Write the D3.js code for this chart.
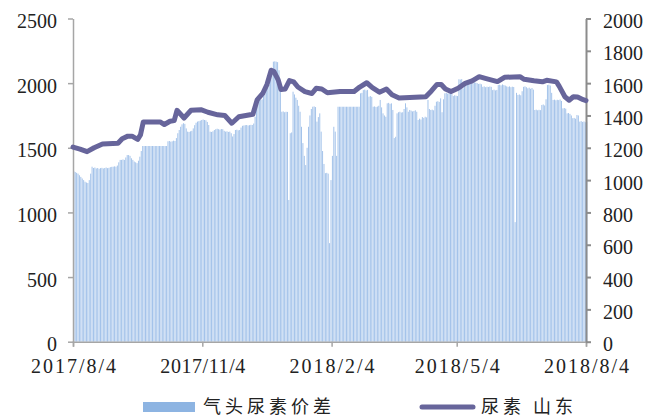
<!DOCTYPE html>
<html>
<head>
<meta charset="utf-8">
<script src="https://cdn.jsdelivr.net/npm/d3@7"></script>
<style>
  body { margin: 0; background: #fff; }
  .tick text { font-family: "Liberation Serif", serif; font-size: 20px; fill: #222; }
  .legend-label { font-family: "Noto Sans CJK SC", sans-serif; font-size: 18px; fill: #222; letter-spacing: 4px; }
</style>
</head>
<body>
<div id="chart"></div>
<script>
// 尿素 山东 (left axis) - sampled dates and prices
const lineDates = [
  '2017-08-04','2017-08-09','2017-08-14','2017-08-19','2017-08-25','2017-09-05','2017-09-08','2017-09-12',
  '2017-09-15','2017-09-19','2017-09-21','2017-09-23','2017-10-05','2017-10-08','2017-10-12','2017-10-15',
  '2017-10-17','2017-10-22','2017-10-27','2017-11-03','2017-11-08','2017-11-15','2017-11-20','2017-11-25',
  '2017-11-30','2017-12-10','2017-12-13','2017-12-17','2017-12-20','2017-12-23','2017-12-25','2017-12-28',
  '2017-12-30','2018-01-02','2018-01-05','2018-01-08','2018-01-11','2018-01-16','2018-01-21','2018-01-24',
  '2018-01-28','2018-02-01','2018-02-10','2018-02-20','2018-02-24','2018-03-01','2018-03-05','2018-03-10',
  '2018-03-15','2018-03-19','2018-03-24','2018-04-12','2018-04-16','2018-04-20','2018-04-23','2018-04-26',
  '2018-04-30','2018-05-05','2018-05-10','2018-05-15','2018-05-20','2018-05-25','2018-06-02','2018-06-07',
  '2018-06-18','2018-06-21','2018-06-28','2018-07-04','2018-07-07','2018-07-14','2018-07-16','2018-07-20',
  '2018-07-23','2018-07-26','2018-07-29','2018-08-02','2018-08-04'
];
const lineValues = [
  1505, 1490, 1470, 1500, 1530, 1535, 1570, 1590,
  1590, 1565, 1600, 1700, 1700, 1680, 1705, 1710,
  1790, 1730, 1790, 1795, 1775, 1755, 1750, 1690,
  1740, 1760, 1870, 1920, 1990, 2100, 2090, 2025,
  1950, 1955, 2020, 2010, 1970, 1935, 1920, 1960,
  1955, 1926, 1935, 1935, 1970, 2003, 1965, 1930,
  1955, 1910, 1885, 1895, 1940, 1990, 1990, 1955,
  1935, 1960, 1998, 2018, 2050, 2035, 2012, 2045,
  2050, 2030, 2018, 2010, 2022, 2010, 1975, 1895,
  1868, 1895, 1893, 1872, 1865
];

// 气头尿素价差 (right axis) - one value per day from 2017/8/4
const spreadStart = '2017-08-04';
const spreadValues = [
  1055,1050,1045,1040,1030,1020,1010,1000,990,985,982,1000,1040,1083,
  1075,1078,1072,1075,1070,1074,1076,1072,1075,1078,1074,1076,1080,1082,
  1083,1085,1083,1090,1110,1125,1125,1128,1125,1140,1155,1155,1150,1135,1125,1115,1110,1105,1120,1145,1180,
  1211,1211,1211,1211,1211,1211,1211,1211,1211,1211,1211,1211,1211,1211,1211,1211,1211,1211,
  1240,1242,1238,1240,1244,1242,1260,1290,1310,1330,1345,1352,1348,1320,1300,1298,1302,1305,
  1320,1340,1355,1362,1365,1368,1372,1375,1372,1370,1360,1341,
  1300,1298,1302,1310,1315,1318,1315,1312,1316,1315,1305,1300,1302,1298,1300,1290,
  1270,1285,1310,1312,1308,1310,1325,1336,1338,1340,1341,1338,1340,1342,1341,1350,
  1392,1440,1496,1498,1496,1500,1520,1536,1550,1570,1590,1620,1680,
  1733,1735,1733,1730,1680,1600,1423,1425,1420,1423,1422,877,
  1290,1295,1547,1530,1510,1496,1460,1423,1330,1229,1150,1093,1200,1330,1400,1440,
  1454,1456,1452,1362,1390,1413,1300,1180,1100,1043,1045,1040,610,1000,1150,1330,1300,1150,
  1454,1454,1454,1454,1454,1454,1454,1454,1454,1454,1454,1454,1454,1454,1454,1454,
  1537,1540,1557,1560,1555,1558,1516,1520,1515,1454,1456,1452,1455,1460,1496,1450,
  1413,1400,1392,1475,1478,1472,1475,1434,1260,1268,1413,1420,1423,1418,1420,1440,1475,1450,
  1423,1434,1430,1425,1428,1432,1423,1372,1380,1375,1390,1385,1392,1388,1496,1440,
  1434,1436,1432,1460,1485,1488,1484,1506,1420,1500,1537,1540,1535,1538,1536,1534,
  1520,1525,1522,1520,1624,1622,1625,1568,1580,1590,
  1600,1604,1606,1602,1600,1605,1603,1600,1595,1597,1593,1577,1580,1575,1578,1576,1579,1577,
  1557,1560,1555,1558,1588,1590,1586,1592,1588,1585,1580,1577,1580,1575,1578,1576,
  740,1540,1527,1530,1525,1550,1577,1580,1575,1568,1572,1565,1570,1560,
  1434,1436,1432,1435,1433,1465,1468,1462,1500,1588,1590,1585,1540,
  1496,1498,1494,1497,1495,1499,1490,1444,1446,1442,1413,1415,1410,1400,
  1383,1385,1380,1403,1400,1362,1365,1360,1363,1358,1362
];

const xTickDates = ['2017-08-04','2017-11-04','2018-02-04','2018-05-04','2018-08-04'];
const leftTicks = [0, 500, 1000, 1500, 2000, 2500];
const rightTicks = [0, 200, 400, 600, 800, 1000, 1200, 1400, 1600, 1800, 2000];
const legendLabels = ['气头尿素价差', '尿素 山东'];

class ComboChart {
  constructor(_config) {
    this.config = {
      parentElement: _config.parentElement,
      containerWidth: 660,
      containerHeight: 418,
      margin: { top: 18.5, right: 74, bottom: 76.3, left: 73 },
      barColor: '#a4c3ea',
      lineColor: '#67659b'
    };
    this.initVis();
  }

  initVis() {
    let vis = this;
    const parseDate = d3.timeParse('%Y-%m-%d');

    vis.width = vis.config.containerWidth - vis.config.margin.left - vis.config.margin.right;
    vis.height = vis.config.containerHeight - vis.config.margin.top - vis.config.margin.bottom;

    vis.svg = d3.select(vis.config.parentElement).append('svg')
      .attr('width', vis.config.containerWidth)
      .attr('height', vis.config.containerHeight);

    vis.chart = vis.svg.append('g')
      .attr('transform', `translate(${vis.config.margin.left},${vis.config.margin.top})`);

    vis.lineData = lineDates.map((d, i) => ({ date: parseDate(d), value: lineValues[i] }));
    const start = parseDate(spreadStart);
    vis.barData = spreadValues.map((v, i) => ({ date: d3.timeDay.offset(start, i), value: v }));
    vis.xTicks = xTickDates.map(parseDate);

    vis.xScale = d3.scaleTime()
      .domain([vis.xTicks[0], vis.xTicks[vis.xTicks.length - 1]])
      .range([0, vis.width]);
    vis.yLeft = d3.scaleLinear().domain([0, 2500]).range([vis.height, 0]);
    vis.yRight = d3.scaleLinear().domain([0, 2000]).range([vis.height, 0]);

    vis.renderVis();
  }

  renderVis() {
    let vis = this;

    // bars for the spread
    vis.chart.selectAll('.bar')
      .data(vis.barData)
      .join('rect')
      .attr('class', 'bar')
      .attr('x', d => vis.xScale(d.date) + 0.3)
      .attr('width', 1)
      .attr('y', d => vis.yRight(d.value))
      .attr('height', d => vis.height - vis.yRight(d.value))
      .attr('fill', vis.config.barColor);

    // axes
    const xAxis = d3.axisBottom(vis.xScale)
      .tickValues(vis.xTicks)
      .tickFormat(d3.timeFormat('%Y/%-m/%-d'))
      .tickSizeOuter(0).tickSize(5).tickPadding(12);
    const gx = vis.chart.append('g')
      .attr('transform', `translate(0,${vis.height})`)
      .call(xAxis);
    gx.selectAll('text').attr('textLength', 85).attr('lengthAdjust', 'spacing');

    const gl = vis.chart.append('g')
      .call(d3.axisLeft(vis.yLeft).tickValues(leftTicks).tickFormat(d3.format('d'))
        .tickSize(5).tickSizeOuter(0).tickPadding(11));
    gl.selectAll('text').attr('dy', '0.45em');

    const gr = vis.chart.append('g')
      .attr('transform', `translate(${vis.width},0)`)
      .call(d3.axisRight(vis.yRight).tickValues(rightTicks).tickFormat(d3.format('d'))
        .tickSize(5).tickSizeOuter(0).tickPadding(12));
    gr.selectAll('text').attr('dy', '0.45em');

    [gx, gl].forEach(g => {
      g.selectAll('path, line').attr('stroke', '#a6a6a6').attr('stroke-width', 1.5);
    });
    gr.selectAll('path, line').attr('stroke', '#8c8c8c').attr('stroke-width', 2);

    // urea price line
    const line = d3.line()
      .x(d => vis.xScale(d.date))
      .y(d => vis.yLeft(d.value));

    vis.chart.append('path')
      .datum(vis.lineData)
      .attr('fill', 'none')
      .attr('stroke', vis.config.lineColor)
      .attr('stroke-width', 5)
      .attr('stroke-linejoin', 'round')
      .attr('stroke-linecap', 'round')
      .attr('d', line);

    // legend
    const legend = vis.svg.append('g');
    legend.append('rect')
      .attr('x', 143).attr('y', 402).attr('width', 52).attr('height', 10)
      .attr('fill', '#8db4e2');
    legend.append('text')
      .attr('class', 'legend-label')
      .attr('x', 203).attr('y', 413)
      .text(legendLabels[0]);
    legend.append('line')
      .attr('x1', 422).attr('x2', 473).attr('y1', 407).attr('y2', 407)
      .attr('stroke', vis.config.lineColor)
      .attr('stroke-width', 5)
      .attr('stroke-linecap', 'round');
    legend.append('text')
      .attr('class', 'legend-label')
      .attr('x', 481).attr('y', 413)
      .text(legendLabels[1]);
  }
}

new ComboChart({ parentElement: '#chart' });
</script>
</body>
</html>
